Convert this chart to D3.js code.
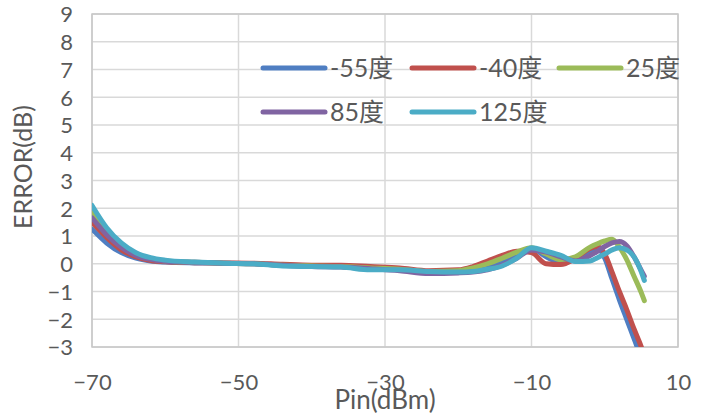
<!DOCTYPE html>
<html><head><meta charset="utf-8">
<script src="https://cdn.jsdelivr.net/npm/d3@7"></script>
<style>body{margin:0;background:#fff}svg{display:block}</style>
</head><body><svg id="c" width="706" height="416"></svg>
<script>
const xs = [-70,-68,-66,-64,-62,-60,-56,-52,-48,-44,-40,-36,-32,-28,-24,-20,-18,-16,-14,-12,-10,-8,-6,-4,-2,-1,0,1,2,3,4,5,5.4];
const seriesNames = ["-55度","-40度","25度","85度","125度"];
const colors = ["#4F7EC2","#C0504D","#9BBB59","#8064A2","#4BACC6"];
const valsM55 = [1.25,0.75,0.4,0.2,0.1,0.06,0.03,0.02,0.0,-0.05,-0.08,-0.1,-0.15,-0.2,-0.3,-0.28,-0.22,-0.1,0.05,0.3,0.55,0.25,0.05,0.15,0.45,0.55,0.2,-0.55,-1.3,-2.0,-2.7,-3.4,-3.7];
const valsM40 = [1.5,0.95,0.5,0.25,0.12,0.07,0.04,0.03,0.02,-0.02,-0.05,-0.05,-0.1,-0.15,-0.25,-0.22,-0.1,0.1,0.3,0.45,0.4,0.0,-0.03,0.2,0.55,0.62,0.35,-0.3,-1.0,-1.65,-2.35,-3.0,-3.3];
const vals25 = [1.85,1.15,0.65,0.35,0.18,0.1,0.05,0.02,0.0,-0.05,-0.08,-0.1,-0.15,-0.2,-0.28,-0.25,-0.15,0.0,0.2,0.42,0.58,0.35,0.15,0.25,0.6,0.72,0.82,0.88,0.6,0.15,-0.45,-1.05,-1.33];
const vals85 = [1.65,1.05,0.6,0.3,0.16,0.09,0.05,0.02,0.0,-0.05,-0.1,-0.12,-0.18,-0.25,-0.35,-0.33,-0.3,-0.22,-0.05,0.2,0.5,0.42,0.25,0.1,0.3,0.45,0.62,0.75,0.8,0.65,0.25,-0.25,-0.45];
const vals125 = [2.1,1.3,0.75,0.4,0.22,0.13,0.06,0.02,0.0,-0.08,-0.1,-0.12,-0.22,-0.22,-0.28,-0.3,-0.28,-0.2,-0.08,0.2,0.58,0.45,0.3,0.08,0.1,0.22,0.35,0.5,0.58,0.5,0.25,-0.3,-0.6];
const xTicks = [-70,-50,-30,-10,10];
const yTicks = [-3,-2,-1,0,1,2,3,4,5,6,7,8,9];

const allVals = [valsM55, valsM40, vals25, vals85, vals125];
const svg = d3.select("#c");
const L=92, R=678, T=14, B=347;
const x = d3.scaleLinear().domain([-70,10]).range([L,R]);
const y = d3.scaleLinear().domain([-3,9]).range([B,T]);
const txt = "#595959";
const font = "Lato,'Noto Sans CJK SC',sans-serif";

// grid
svg.append("g").selectAll("line.h").data(yTicks).join("line")
  .attr("x1",L).attr("x2",R).attr("y1",d=>y(d)).attr("y2",d=>y(d))
  .attr("stroke","#d9d9d9").attr("stroke-width",1.5);
svg.append("g").selectAll("line.v").data(xTicks).join("line")
  .attr("y1",T).attr("y2",B).attr("x1",d=>x(d)).attr("x2",d=>x(d))
  .attr("stroke","#d9d9d9").attr("stroke-width",1.5);
svg.append("rect").attr("x",L).attr("y",T).attr("width",R-L).attr("height",B-T)
  .attr("fill","none").attr("stroke","#c8c8c8").attr("stroke-width",1.5);

// axes labels
const yAxis = d3.axisLeft(y).tickValues(yTicks).tickSize(0).tickPadding(0);
const gy = svg.append("g").attr("transform",`translate(${73},0)`).call(yAxis);
gy.select(".domain").remove();
gy.selectAll("text").attr("fill",txt).style("font-family",font).style("font-size","22px").attr("dy","0.36em");

const xAxis = d3.axisBottom(x).tickValues(xTicks).tickSize(0).tickPadding(0);
const gx = svg.append("g").attr("transform",`translate(0,${390})`).call(xAxis);
gx.select(".domain").remove();
gx.selectAll("text").attr("fill",txt).style("font-family",font).style("font-size","22px").attr("dy","0");

svg.append("text").attr("x",385).attr("y",409).attr("text-anchor","middle")
  .attr("fill",txt).style("font-family",font).style("font-size","26px").text("Pin(dBm)");
svg.append("text").attr("transform","translate(32,167) rotate(-90)").attr("text-anchor","middle")
  .attr("fill",txt).style("font-family",font).style("font-size","25px").text("ERROR(dB)");

// lines
svg.append("clipPath").attr("id","clip").append("rect").attr("x",L).attr("y",T-5).attr("width",R-L).attr("height",B-T+5);
const line = d3.line().x((d,i)=>x(xs[i])).y(d=>y(d)).curve(d3.curveMonotoneX);
svg.append("g").attr("clip-path","url(#clip)").selectAll("path").data(allVals).join("path")
  .attr("d",d=>line(d)).attr("fill","none").attr("stroke",(d,i)=>colors[i])
  .attr("stroke-width",5).attr("stroke-linejoin","round").attr("stroke-linecap","round");

// legend
const legPos = [[263,68],[412,68],[559,68],[263,112],[412,112]];
const lg = svg.append("g").selectAll("g").data(seriesNames).join("g")
  .attr("transform",(d,i)=>`translate(${legPos[i][0]},${legPos[i][1]})`);
lg.append("line").attr("x1",0).attr("x2",62).attr("y1",0).attr("y2",0)
  .attr("stroke",(d,i)=>colors[i]).attr("stroke-width",5).attr("stroke-linecap","round");
lg.append("text").attr("x",67).attr("y",9).attr("fill",txt)
  .style("font-family",font).style("font-size","25px").text(d=>d);
</script></body></html>
